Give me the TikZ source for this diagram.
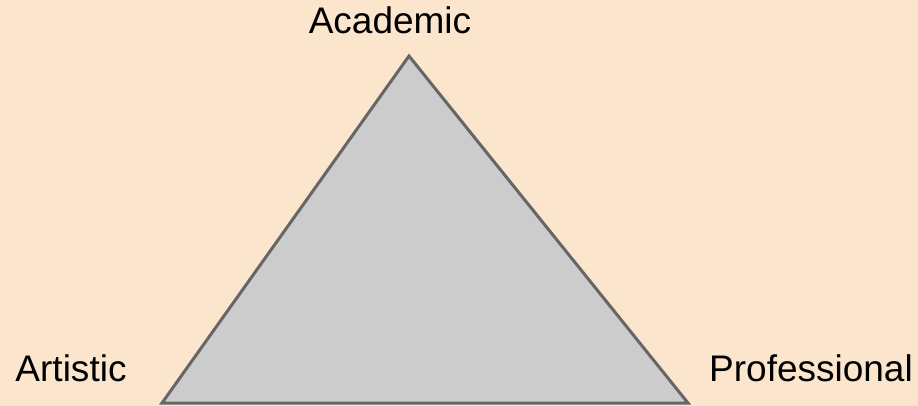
\documentclass[tikz,border=0pt]{standalone}
\usepackage{fontspec}
\setmainfont{Liberation Sans}
\usepackage{tikz}
\usetikzlibrary{positioning}
\definecolor{peach}{HTML}{FCE5CD}
\definecolor{trifill}{HTML}{CCCCCC}
\definecolor{triedge}{HTML}{666666}

\begin{document}
\begin{tikzpicture}[x=1pt,y=-1pt,
		corner/.style={anchor=base,font=\fontsize{37}{40}\selectfont}]
			\fill[peach] (0,0) rectangle (918,406);
			\useasboundingbox (0,0) rectangle (918,406);
			\coordinate (top) at (409,56);
			\coordinate (left) at (162,403);
			\coordinate (right) at (688,403);
			\filldraw[fill=trifill,draw=triedge,line width=3pt,line join=miter] (top)--(right)--(left)--cycle;
			\node[corner] (academic) at (390,34) {Academic};
			\node[corner] (artistic) at (71,381) {Artistic};
			\node[corner] (professional) at (811,381) {Professional};
\end{tikzpicture}
\end{document}
